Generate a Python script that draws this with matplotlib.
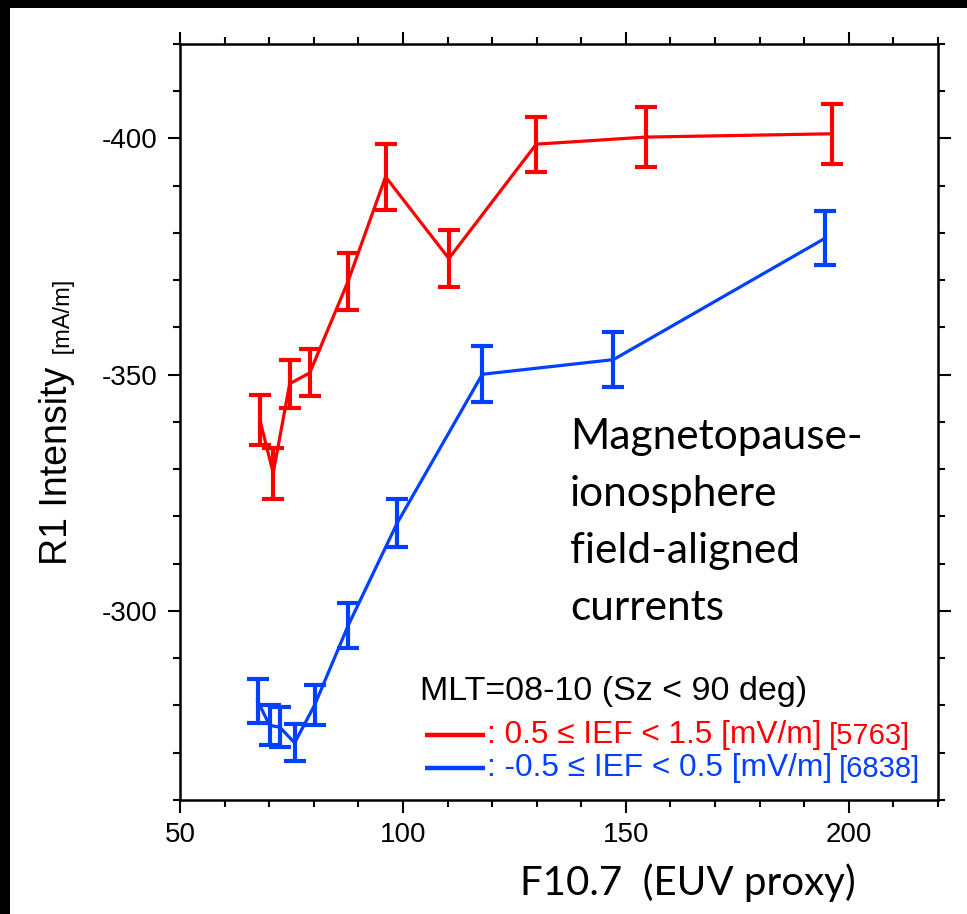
import matplotlib
matplotlib.use("Agg")
import matplotlib.pyplot as plt
from matplotlib.patches import Rectangle
from matplotlib.ticker import MultipleLocator

plt.rcParams["axes.unicode_minus"] = False

# ---- data ----
red_x = [67.9, 70.9, 74.6, 79.1, 87.7, 96.1, 110.3, 129.9, 154.5, 196.3]
red_y = [-340.5, -329.2, -348.1, -350.4, -369.8, -391.9, -374.6, -398.8, -400.3, -401.0]
red_err = [5.3, 5.4, 5.1, 5.0, 6.0, 7.0, 6.1, 5.8, 6.3, 6.4]

blue_x = [67.4, 70.1, 72.4, 75.7, 80.2, 87.7, 98.7, 117.8, 147.2, 194.7]
blue_y = [-281.0, -275.8, -275.4, -272.1, -280.1, -296.9, -318.6, -350.1, -353.2, -378.9]
blue_err = [4.6, 4.2, 4.2, 3.9, 4.3, 4.75, 5.0, 5.9, 5.8, 5.7]

x_ticks = [50, 100, 150, 200]
y_ticks = [-400, -350, -300]

RED = "#ff0000"
BLUE = "#0040ff"
SANS = ["Liberation Sans", "DejaVu Sans"]
NARROW = ["Liberation Sans Narrow", "Liberation Sans", "DejaVu Sans"]
CAL = ["Lato", "DejaVu Sans"]

fig = plt.figure(figsize=(9.67, 9.14), dpi=100)
fig.patch.set_facecolor("white")
ax = fig.add_axes([180/967, 114/914, 758/967, 756/914])

for xs, ys, es, c in [(red_x, red_y, red_err, RED), (blue_x, blue_y, blue_err, BLUE)]:
    ax.errorbar(xs, ys, yerr=es, fmt="-", color=c, lw=2.3, elinewidth=3.0,
                capsize=8, capthick=3.0, zorder=3)

ax.set_xlim(50, 220)
ax.set_ylim(-260, -420)
ax.xaxis.set_minor_locator(MultipleLocator(10))
ax.yaxis.set_minor_locator(MultipleLocator(10))
ax.set_xticks(x_ticks)
ax.set_yticks(y_ticks)
ax.tick_params(which="both", direction="out", top=True, right=True, width=1.5, colors="black")
ax.tick_params(which="major", length=9, labelsize=20, pad=7)
ax.tick_params(which="minor", length=5)
for lab in ax.get_xticklabels() + ax.get_yticklabels():
    lab.set_fontfamily(SANS)
for s in ax.spines.values():
    s.set_linewidth(1.8)

# legend-like text
ax.text(0.3166, 0.143, "MLT=08-10 (Sz < 90 deg)", transform=ax.transAxes,
        fontsize=24.5, family=SANS, va="center", ha="left", color="black")
ax.plot([0.3232, 0.4024], [0.086, 0.086], transform=ax.transAxes, color=RED, lw=3.2,
        solid_capstyle="butt")
ax.plot([0.3232, 0.4024], [0.0423, 0.0423], transform=ax.transAxes, color=BLUE, lw=3.2,
        solid_capstyle="butt")
t1 = ax.text(0.405, 0.086, ": 0.5 \u2264 IEF < 1.5 [mV/m]", transform=ax.transAxes,
             fontsize=22.8, family=SANS, va="center", ha="left", color=RED)
t2 = ax.text(0.405, 0.0423, ": -0.5 \u2264 IEF < 0.5 [mV/m]", transform=ax.transAxes,
             fontsize=22.8, family=SANS, va="center", ha="left", color=BLUE)
ax.annotate("[5763]", xy=(1, 0), xycoords=t1, xytext=(5, 0), textcoords="offset points",
            fontsize=21, family=NARROW, color=RED, va="bottom", ha="left")
ax.annotate("[6838]", xy=(1, 0), xycoords=t2, xytext=(5, 0), textcoords="offset points",
            fontsize=21, family=NARROW, color=BLUE, va="bottom", ha="left")

ax.text(0.5145, 0.505, "Magnetopause-\nionosphere\nfield-aligned\ncurrents",
        transform=ax.transAxes, fontsize=30.5, family=CAL, va="top", ha="left",
        linespacing=1.61, color="black")

# axis labels
fig.text(688/967, 1 - 883/914, "F10.7  (EUV proxy)", fontsize=29, family=CAL,
         ha="center", va="center")
yl = fig.text(57/967, 1 - 565/914, "R1 Intensity", rotation=90, fontsize=27,
              family=NARROW, ha="center", va="bottom")
fig.canvas.draw()
ax.annotate(" [mA/m]", xy=(1, 1), xycoords=yl, xytext=(0, 4), textcoords="offset points",
            rotation=90, fontsize=17, family=NARROW, ha="right", va="bottom")

# black frame edges
fig.patches.append(Rectangle((0, 1 - 8/914), 1, 8/914, transform=fig.transFigure,
                             facecolor="black", edgecolor="none", zorder=10))
fig.patches.append(Rectangle((0, 0), 10/967, 1, transform=fig.transFigure,
                             facecolor="black", edgecolor="none", zorder=10))

fig.savefig("out.png", dpi=100, facecolor="white")
